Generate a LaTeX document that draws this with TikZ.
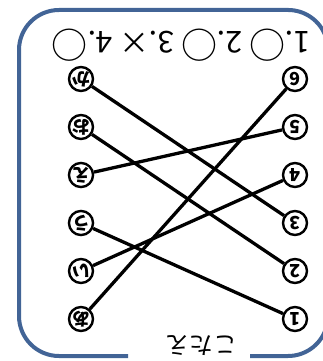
\documentclass[tikz,border=0pt]{standalone}
\usepackage{fontspec}
\newfontfamily\jp{Noto Sans CJK JP}
\definecolor{framecol}{RGB}{66,100,150}
\newcommand\maru{{\fontsize{36}{36}\selectfont ○}}

\begin{document}
\begin{tikzpicture}
   [x=1pt,y=-1pt,
    num/.style={circle,draw,line width=2.4pt,minimum size=24pt,inner sep=0pt,
      rotate=180,font=\jp\fontsize{18}{18}\selectfont\bfseries},
    link/.style={line width=3.3pt},
    frame/.style={framecol,line width=4pt}]
\useasboundingbox (0,0) rectangle (323,361);
\draw [frame] (250,356) -- (288,356) arc[start angle=90,end angle=20,radius=40];
\draw [frame] (325.6,36.3) arc[start angle=-20,end angle=-90,radius=40]
   -- (59,10) arc[start angle=-90,end angle=-180,radius=40]
   -- (19,316) arc[start angle=180,end angle=90,radius=40] -- (128,356);
\node [rotate=180,font=\jp\fontsize{24}{24}\selectfont] (title) at (201,346) {こたえ};
\node [rotate=180,font=\jp\fontsize{30}{30}\selectfont] (ans) at (181,45)
   {1.\maru\ 2.\maru\ 3.× 4.\maru};
\node [num] (ka) at (81,79)  {か};
\node [num] (o)  at (81,127) {お};
\node [num] (e)  at (81,175) {え};
\node [num] (u)  at (81,223) {う};
\node [num] (i)  at (81,271) {い};
\node [num] (a)  at (81,319) {あ};
\node [num] (n6) at (295,79)  {6};
\node [num] (n5) at (295,127) {5};
\node [num] (n4) at (295,175) {4};
\node [num] (n3) at (295,223) {3};
\node [num] (n2) at (295,271) {2};
\node [num] (n1) at (295,319) {1};
\draw [link] (ka) -- (n3);
\draw [link] (o) -- (n2);
\draw [link] (e) -- (n5);
\draw [link] (u) -- (n1);
\draw [link] (i) -- (n4);
\draw [link] (a) -- (n6);
\end{tikzpicture}
\end{document}
